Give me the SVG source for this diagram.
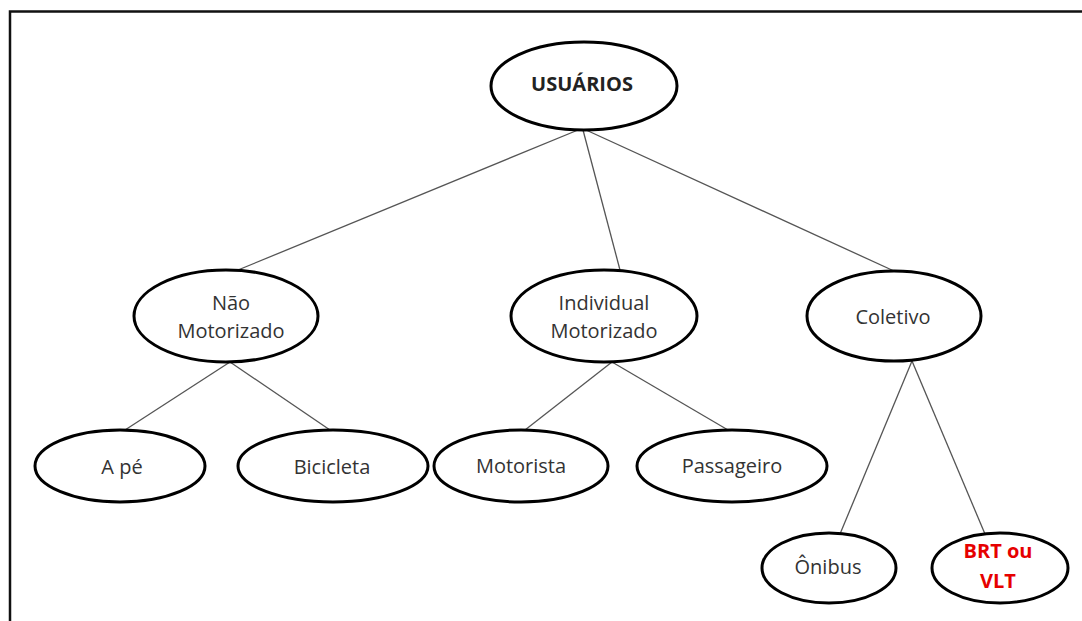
<svg xmlns="http://www.w3.org/2000/svg" width="1082" height="621" viewBox="0 0 1082 621">
<style>
.n ellipse{fill:#fff;stroke:#000;stroke-width:3}
.n text{font-family:"Open Sans","Liberation Sans",sans-serif;font-size:20px;fill:#333;text-anchor:middle}
.c line{stroke:#555;stroke-width:1.3}
</style>
<rect width="1082" height="621" fill="#fff"/>
<path d="M10 621V11.5H1082" fill="none" stroke="#111" stroke-width="2.5"/>
<g class="c">
<line x1="578" y1="130" x2="238" y2="270"/>
<line x1="583" y1="130" x2="620" y2="270"/>
<line x1="586" y1="130" x2="894" y2="271"/>
<line x1="230" y1="362" x2="125" y2="430"/>
<line x1="230" y1="362" x2="330" y2="430"/>
<line x1="612" y1="362" x2="525" y2="430"/>
<line x1="612" y1="362" x2="728" y2="430"/>
<line x1="912" y1="361" x2="840" y2="534"/>
<line x1="912" y1="361" x2="985" y2="534"/>
</g>
<g id="usuarios" class="n"><ellipse cx="584" cy="86" rx="93" ry="44"/><text x="582" y="91" font-weight="bold" style="fill:#222">USUÁRIOS</text></g>
<g id="nao-motorizado" class="n"><ellipse cx="226" cy="316" rx="92" ry="46"/><text x="231" y="310">Não</text><text x="231" y="338">Motorizado</text></g>
<g id="individual" class="n"><ellipse cx="604" cy="316" rx="93" ry="46"/><text x="604" y="310">Individual</text><text x="604" y="338">Motorizado</text></g>
<g id="coletivo" class="n"><ellipse cx="894" cy="316" rx="87" ry="45"/><text x="893" y="324">Coletivo</text></g>
<g id="ape" class="n"><ellipse cx="120" cy="466" rx="85" ry="36"/><text x="122" y="474">A pé</text></g>
<g id="bicicleta" class="n"><ellipse cx="333" cy="466" rx="95" ry="36"/><text x="332" y="474">Bicicleta</text></g>
<g id="motorista" class="n"><ellipse cx="521" cy="466" rx="87" ry="36"/><text x="521" y="473">Motorista</text></g>
<g id="passageiro" class="n"><ellipse cx="732" cy="466" rx="95" ry="36"/><text x="732" y="473">Passageiro</text></g>
<g id="onibus" class="n"><ellipse cx="829" cy="568" rx="67" ry="35"/><text x="828" y="574">Ônibus</text></g>
<g id="brt" class="n"><ellipse cx="1000" cy="568" rx="68" ry="35"/><text x="998" y="558" font-weight="bold" style="fill:#e60000">BRT ou</text><text x="998" y="588" font-weight="bold" style="fill:#e60000">VLT</text></g>
</svg>
